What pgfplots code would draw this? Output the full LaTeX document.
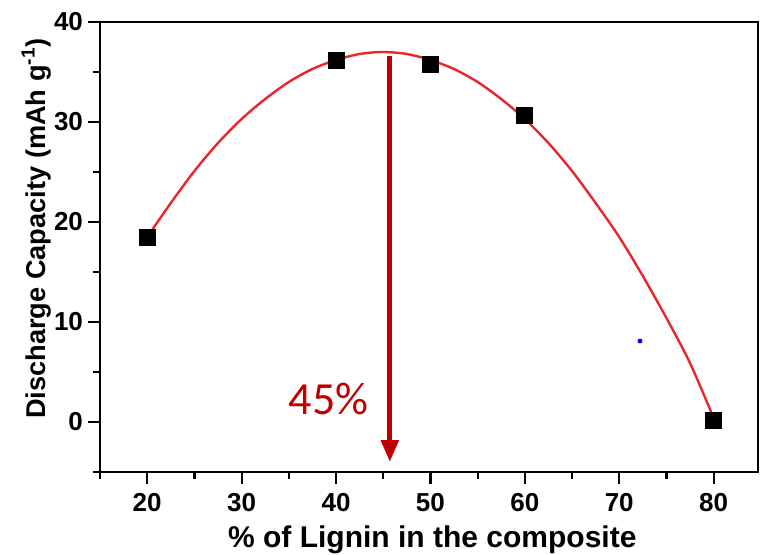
\documentclass[border=0pt]{standalone}
\usepackage{fontspec}
\setmainfont{Liberation Sans}
\newfontfamily\carlito{Carlito}
\usepackage{pgfplots}
\pgfplotsset{compat=1.18}
\usetikzlibrary{arrows.meta}
\definecolor{fitred}{HTML}{E8272C}
\definecolor{arrred}{HTML}{C00000}
\begin{document}
\begin{tikzpicture}
\begin{axis}[
  at={(0,0)}, anchor=south west,
  scale only axis, width=329pt, height=225pt,
  xmin=15, xmax=84.7, ymin=-5, ymax=40,
  xtick={20,30,40,50,60,70,80},
  ytick={0,10,20,30,40},
  minor xtick={15,25,35,45,55,65,75},
  minor ytick={-5,5,15,25,35},
  tick align=outside,
  xtick pos=bottom, ytick pos=left,
  major tick length=6pt, minor tick length=3.5pt,
  axis line style={line width=1.3pt},
  every tick/.style={line width=1.1pt, black},
  /pgf/number format/assume math mode=true,
  tick label style={font=\bfseries\fontsize{13}{13}\selectfont},
  xticklabel style={yshift=-1pt},
  yticklabel style={xshift=1pt},
  xlabel={\% of Lignin in the composite},
  ylabel={Discharge Capacity (mAh g\textsuperscript{-1})},
  xlabel style={font=\bfseries\fontsize{15}{15}\selectfont, at={(axis description cs:0.505,0)}, anchor=center, yshift=-34pt},
  ylabel style={font=\bfseries\fontsize{13.6}{14}\selectfont, at={(axis description cs:-0.097,0.541)}, anchor=center},
  clip=false,
]
\addplot[fitred, line width=1.2pt, smooth] coordinates {
(20,18.5) (22.5,21.9) (25,25.1) (27.5,27.9) (30,30.3) (32.5,32.3) (35,34.0) (37.5,35.3) (40,36.2) (42.5,36.8) (45,37.0) (47.5,36.8) (50,36.2) (52.5,35.3) (55,34.0) (57.5,32.3) (60,30.3) (62.5,27.9) (65,25.1) (67.5,21.9) (70,18.5) (72.5,14.6) (75,10.4) (77.5,5.9) (80,0.4)
};
\addplot[only marks, mark=square*, mark size=4pt, black] coordinates {
(20,18.5) (40,36.2) (50,35.8) (60,30.7) (80,0.2)
};
\addplot[only marks, mark=*, mark size=1pt, blue] coordinates {(72.2,8.1)};
\addplot[arrred, line width=2.6pt, -{Triangle[width=8.5pt,length=11pt]}] coordinates {(45.7,36.6) (45.7,-4.0)};
\node[text=arrred, font=\carlito\fontsize{23}{23}\selectfont] at (axis cs:39.2,2.3) {45\%};
\end{axis}
\pgfresetboundingbox
\path[use as bounding box] (-50pt,-41pt) rectangle (330.5pt,236pt);
\end{tikzpicture}
\end{document}
